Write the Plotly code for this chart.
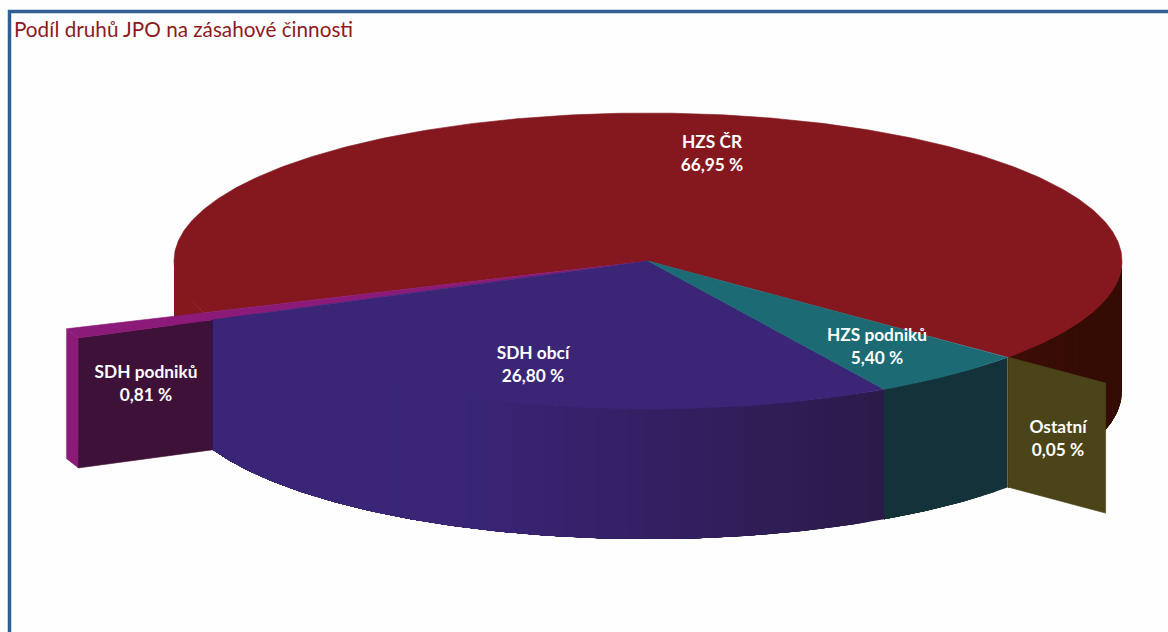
import numpy as np
import plotly.graph_objects as go

# Share of each unit type in the response activity, clockwise from the first slice
categories = ["HZS podniků", "SDH obcí", "SDH podniků", "HZS ČR", "Ostatní"]
shares = [5.40, 26.80, 0.81, 66.95, 0.05]

top_colors = ["#1b6a74", "#3a2577", "#8c1a78", "#85181e", "#4a4418"]
wall_light = ["#13323a", "#3a2577", "#3e1238", "#85181e", "#4a4418"]
wall_dark = ["#13323a", "#251536", "#3e1238", "#340c04", "#4a4418"]

# Radial pull of the two smallest slices
pull = [1.0, 1.0, 1.31, 1.0, 1.27]

# Label anchors in page pixels
label_x = [877, 533, 146, 712, 1058]
label_y = [348, 366, 385, 155, 440]

TITLE = "Podíl druhů JPO na zásahové činnosti"

# Projection of the tilted disc onto the page
CX, CY = 648, 261
RX, RY = 474, 148
DEPTH = 130
START_DEG = 40.7


def project(angle, radius=1.0, drop=0.0):
    a = np.radians(angle)
    return CX + RX * radius * np.cos(a), CY + RY * radius * np.sin(a) + drop


def mix(c1, c2, t):
    rgb1 = [int(c1[i:i + 2], 16) for i in (1, 3, 5)]
    rgb2 = [int(c2[i:i + 2], 16) for i in (1, 3, 5)]
    return "rgb({},{},{})".format(*[round(p + (q - p) * t) for p, q in zip(rgb1, rgb2)])


def polygon(xs, ys, color, edge=0.6):
    return go.Scatter(x=list(xs), y=list(ys), mode="lines", fill="toself", fillcolor=color,
                      line=dict(color=color, width=edge), hoverinfo="skip", showlegend=False)


def wedge(a0, a1, radius, color):
    angles = np.linspace(a0, a1, max(3, int(abs(a1 - a0) * 2)))
    x, y = project(angles, radius)
    return polygon(np.r_[CX, x, CX], np.r_[CY, y, CY], color)


def rim(a0, a1, radius, light, dark):
    # Curved outer wall. Each layer spans from its own angle to the far end and is
    # painted over the previous one, so the shade changes along the wall without seams.
    traces = []
    lo, hi = max(a0, 0), min(a1, 180)
    if hi <= lo:
        return traces
    edges = np.linspace(lo, hi, max(2, int((hi - lo) / 2) + 1))
    for s, e in zip(edges[:-1], edges[1:]):
        arc = np.linspace(s, hi, max(3, int((hi - s) * 2)))
        x, y = project(arc, radius)
        xb, yb = project(arc[::-1], radius, DEPTH)
        xm = project((s + e) / 2, radius)[0]
        t = ((xm - CX) / (RX * radius) + 1) / 2
        shade = mix(light, dark, float(np.clip((t - 0.3) / 0.65, 0, 1)))
        traces.append(polygon(np.r_[x, xb, x[0]], np.r_[y, yb, y[0]], shade, edge=0))
    return traces


def radial_wall(angle, r0, r1, color):
    x0, y0 = project(angle, r0)
    x1, y1 = project(angle, r1)
    return polygon([x0, x1, x1, x0, x0], [y0, y1, y1 + DEPTH, y0 + DEPTH, y0], color)


# Angular extent of every slice
spans = np.cumsum([0] + shares) / sum(shares) * 360 + START_DEG
slices = {name: (i, spans[i], spans[i + 1]) for i, name in enumerate(categories)}

traces = []

# Back to front: main slice first, then the pulled slice, then the front slices
i, a0, a1 = slices["HZS ČR"]
traces += rim(a0, 180, 1, wall_light[i], wall_dark[i])
traces += rim(0, a1 - 360, 1, wall_light[i], wall_dark[i])
traces.append(wedge(a0, a1, 1, top_colors[i]))

i, a0, a1 = slices["SDH podniků"]
traces.append(radial_wall(a0, 0.9, pull[i], wall_light[i]))
traces += rim(a0, a1, pull[i], top_colors[i], top_colors[i])
traces.append(wedge(a0, a1, pull[i], top_colors[i]))

i, a0, a1 = slices["SDH obcí"]
traces += rim(a0, a1, 1, wall_light[i], wall_dark[i])
traces.append(wedge(a0, a1, 1, top_colors[i]))

i, a0, a1 = slices["HZS podniků"]
traces += rim(a0, a1, 1, wall_light[i], wall_dark[i])
traces.append(wedge(a0, a1, 1, top_colors[i]))

i, a0, a1 = slices["Ostatní"]
traces += rim(a0 - 360, a1 - 360, 1, top_colors[i], top_colors[i])
traces.append(radial_wall(a0 - 360, 1.0, pull[i], top_colors[i]))

# Slice captions
captions = ["{}<br>{} %".format(n, f"{v:.2f}".replace(".", ",")) for n, v in zip(categories, shares)]
traces.append(go.Scatter(x=label_x, y=label_y, mode="text", text=captions, textposition="middle center",
                         textfont=dict(family="Lato", size=17.3, color="white", weight="bold"),
                         hoverinfo="skip", showlegend=False))

fig = go.Figure(traces)
fig.update_layout(
    width=1168, height=632, autosize=False,
    margin=dict(l=0, r=0, t=0, b=0),
    paper_bgcolor="#fefefe", plot_bgcolor="#fefefe",
    xaxis=dict(range=[0, 1168], visible=False, fixedrange=True),
    yaxis=dict(range=[632, 0], visible=False, fixedrange=True),
    shapes=[
        dict(type="line", xref="x", yref="y", x0=8, x1=1168, y0=11.5, y1=11.5,
             line=dict(color="#2f5f93", width=3.5)),
        dict(type="line", xref="x", yref="y", x0=9.5, x1=9.5, y0=10, y1=632,
             line=dict(color="#2f5f93", width=3.5)),
    ],
    annotations=[dict(text=TITLE, x=12, y=28.5, xref="x", yref="y", xanchor="left", yanchor="middle",
                      showarrow=False, font=dict(family="Lato", size=20.7, color="#8c1a22"))],
)
fig.write_html("out.html", config=dict(displayModeBar=False))
